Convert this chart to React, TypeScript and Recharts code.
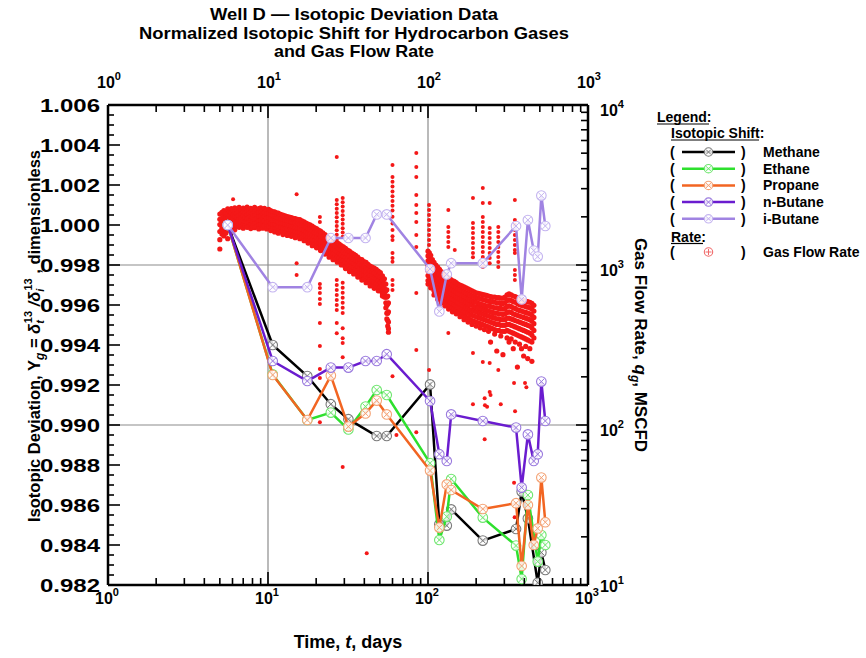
import React from "react";
import {
  ComposedChart,
  Scatter,
  XAxis,
  YAxis,
  ReferenceLine,
} from "recharts";

// sampling times (days) shared by the isotope series
const SAMPLE_DAYS = [5.6, 10.7, 17.6, 24.7, 31.8, 40.7, 47.8, 55.2, 103, 117.7, 131, 139.6, 220, 355, 385, 421, 458, 485, 511, 541];

// normalized isotopic shift, null = not sampled
const METHANE = [1.0, 0.994, 0.99245, 0.99104, 0.99029, null, 0.98945, 0.98945, 0.99203, 0.98503, 0.98497, 0.98578, 0.98422, 0.9848, 0.98667, 0.98533, null, 0.98211, 0.98363, 0.98275];
const ETHANE = [1.0, 0.99253, 0.99025, 0.99062, 0.98978, 0.99092, 0.99175, 0.9915, 0.98809, 0.98425, 0.98542, 0.9873, 0.98537, 0.98397, 0.9823, 0.9865, null, 0.98317, 0.9845, 0.984];
const PROPANE = [1.0, 0.9925, 0.99025, 0.99247, 0.98992, 0.99058, 0.99122, 0.99053, 0.98772, 0.98487, 0.98703, 0.98675, 0.9858, 0.98609, 0.98295, 0.986, 0.984, 0.98483, 0.98737, 0.98514];
const N_BUTANE = [1.0, 0.9932, 0.9922, 0.99287, 0.99287, 0.9932, 0.9932, 0.99354, 0.9912, 0.98854, 0.9882, 0.99053, 0.9902, 0.98987, 0.98687, 0.98953, 0.9882, 0.98854, 0.99217, 0.9902];
const I_BUTANE = [1.0, 0.99689, 0.99689, 0.99935, 0.99935, 0.99935, 1.00053, 1.00053, 0.9978, 0.99568, 0.99753, 0.99809, 0.99809, 0.99995, 0.99628, 1.00025, 0.99872, 0.99842, 1.00147, 0.99995];

// gas flow rate (MSCFD), rows = [t, q, q, ...]
const RATE_BAND_EARLY = [
  [5.0, 2080, 1930, 1790, 1620, 1440, 1259],
  [5.15, 2130, 1960, 1850, 1700, 1560],
  [5.3, 2190, 2020, 1880, 1760, 1650, 1520],
  [5.45, 2110, 1990, 1820, 1690, 1580],
  [5.6, 2240, 2070, 1950, 1810, 1700, 1460],
  [5.75, 2170, 2040, 1900, 1760, 1640],
  [5.9, 2250, 2110, 1980, 1850, 1730, 1600],
  [6.05, 2200, 2060, 1930, 1790, 1690],
  [6.2, 2280, 2150, 2010, 1880, 1760, 1660],
  [6.4, 2230, 2100, 1990, 1870, 1750],
  [6.6, 2290, 2170, 2040, 1930, 1820, 1720],
  [6.8, 2210, 2080, 1960, 1850, 1740],
  [7.0, 2270, 2140, 2020, 1900, 1790, 1700],
  [7.2, 2240, 2110, 1980, 1860, 1760],
  [7.4, 2300, 2160, 2050, 1940, 1820, 1720],
  [7.6, 2200, 2090, 1970, 1840, 1730],
  [7.8, 2260, 2130, 2010, 1890, 1780, 1690],
  [8.0, 2230, 2100, 1990, 1870, 1750],
  [8.25, 2290, 2150, 2030, 1920, 1810, 1710],
  [8.5, 2210, 2070, 1950, 1830, 1740],
  [8.75, 2250, 2120, 2000, 1880, 1770, 1680],
  [9.0, 2280, 2140, 2020, 1900, 1790],
  [9.25, 2220, 2090, 1970, 1860, 1750, 1700],
  [9.5, 2260, 2130, 2010, 1880, 1760],
  [9.8, 2200, 2080, 1960, 1840, 1730, 1680],
  [10.1, 2230, 2100, 1980, 1870, 1750],
  [10.4, 2190, 2060, 1940, 1820, 1710, 1640],
  [10.7, 2160, 2030, 1900, 1790, 1690],
  [11.0, 2150, 2010, 1890, 1780, 1670, 1610],
  [11.3, 2120, 1990, 1870, 1760, 1650],
  [11.6, 2110, 1970, 1850, 1740, 1640, 1580],
  [12.0, 2070, 1950, 1830, 1720, 1620],
  [12.4, 2050, 1920, 1810, 1700, 1600, 1550],
  [12.8, 2030, 1900, 1790, 1680, 1590],
  [13.2, 2010, 1890, 1770, 1670, 1570, 1530],
  [13.6, 1990, 1870, 1760, 1650, 1560],
  [14.0, 1980, 1860, 1740, 1640, 1550, 1510],
  [14.4, 1960, 1840, 1730, 1630, 1540],
  [14.8, 1950, 1830, 1710, 1610, 1520, 1480],
  [15.3, 1930, 1810, 1700, 1600, 1510],
  [15.8, 1920, 1800, 1690, 1590, 1500, 1460],
  [16.3, 1890, 1770, 1660, 1560, 1480],
  [16.8, 1860, 1750, 1640, 1540, 1460, 1420],
  [17.3, 1830, 1720, 1610, 1510, 1430],
  [17.8, 1800, 1690, 1580, 1490, 1410, 1370],
  [18.3, 1780, 1670, 1560, 1470, 1390],
  [18.9, 1750, 1640, 1530, 1440, 1360, 1320],
  [19.5, 1710, 1600, 1500, 1410, 1340],
  [20.1, 1690, 1580, 1480, 1390, 1320, 1280],
  [20.7, 1650, 1550, 1450, 1360, 1290],
  [21.3, 1630, 1520, 1420, 1340, 1270, 1230],
  [22.0, 1590, 1490, 1390, 1310, 1240],
  [22.7, 1550, 1450, 1350, 1270, 1210, 1170],
  [23.4, 1510, 1410, 1320, 1240, 1180],
  [24.1, 1480, 1380, 1290, 1210, 1150, 1120],
  [24.8, 1450, 1360, 1270, 1190, 1130],
  [25.5, 1430, 1340, 1250, 1170, 1110, 1080],
  [26.3, 1410, 1320, 1230, 1150, 1090],
  [27.1, 1380, 1290, 1200, 1130, 1070, 1040],
  [27.9, 1350, 1260, 1180, 1110, 1050],
  [28.7, 1320, 1240, 1160, 1080, 1030, 1000],
  [29.6, 1300, 1210, 1130, 1060, 1000],
  [30.5, 1270, 1180, 1110, 1040, 980, 950],
  [31.4, 1240, 1160, 1090, 1020, 960],
  [32.3, 1220, 1140, 1060, 990, 940, 910],
  [33.3, 1190, 1110, 1040, 980, 920],
  [34.3, 1170, 1090, 1020, 960, 905, 880],
  [35.3, 1150, 1070, 1000, 940, 890],
  [36.4, 1120, 1050, 980, 920, 865, 840],
  [37.5, 1090, 1020, 950, 895, 845],
  [38.6, 1080, 1000, 940, 880, 830, 805],
  [39.8, 1050, 980, 920, 860, 815],
  [41.0, 1040, 965, 900, 850, 800, 775],
  [42.2, 1010, 945, 880, 830, 785],
  [43.5, 985, 920, 860, 805, 760, 740],
  [44.8, 970, 905, 850, 795, 750],
  [46.1, 955, 890, 830, 780, 740, 715],
  [47.5, 940, 875, 815, 765, 725],
  [48.9, 915, 855, 800, 745, 705, 690],
  [50.4, 895, 835, 780, 730, 690],
  [51.9, 855, 800, 745, 695, 660, 640],
  [53.4, 820, 765, 715, 670, 630],
  [54.5, 760, 690, 630, 580, 540],
  [55.3, 700, 630, 560, 500, 460],
  [56.0, 640, 570, 500, 450, 415],
  [56.6, 580, 510, 440, 400, 380],
];

const RATE_BAND_LATE = [
  [100, 1220, 1140, 1060, 990, 920, 860, 800, 760],
  [102, 1190, 1110, 1030, 960, 900, 840, 780],
  [104, 1150, 1070, 1000, 930, 870, 810, 760, 720],
  [106.5, 1080, 1010, 940, 880, 820, 770, 720],
  [109, 1040, 970, 900, 840, 790, 740, 690, 650],
  [112, 1000, 930, 870, 810, 760, 710, 660],
  [115, 970, 900, 840, 790, 740, 690, 640, 610],
  [118, 940, 880, 820, 770, 720, 670, 630],
  [121, 910, 850, 800, 750, 700, 650, 610, 580],
  [124, 890, 830, 780, 730, 680, 640, 600],
  [127.5, 870, 810, 760, 710, 665, 625, 585, 555],
  [131, 850, 795, 745, 695, 650, 610, 570],
  [134.5, 830, 780, 730, 680, 640, 600, 560, 530],
  [138, 815, 765, 715, 670, 625, 585, 550],
  [142, 800, 750, 700, 655, 615, 575, 540, 510],
  [146, 790, 735, 690, 645, 605, 565, 530],
  [150, 775, 725, 680, 635, 595, 555, 520, 495],
  [154, 760, 710, 665, 625, 585, 545, 510],
  [158.5, 750, 700, 655, 615, 575, 535, 500, 475],
  [163, 740, 690, 645, 605, 565, 525, 490],
  [168, 730, 680, 635, 595, 555, 515, 480, 455],
  [173, 720, 670, 625, 585, 545, 505, 470],
  [178, 710, 660, 615, 575, 535, 500, 465, 440],
  [183, 700, 650, 605, 565, 525, 490, 455],
  [188.5, 690, 640, 600, 560, 520, 485, 450, 425],
  [194, 680, 635, 590, 550, 515, 480, 445],
  [200, 670, 625, 585, 545, 510, 475, 440, 415],
  [206, 665, 620, 575, 540, 505, 470, 435],
  [212, 660, 615, 570, 535, 500, 465, 430, 405],
  [218, 655, 610, 565, 530, 495, 460, 425],
  [225, 650, 605, 560, 525, 490, 455, 420, 395],
  [232, 645, 600, 555, 520, 485, 450, 415],
  [239, 640, 595, 555, 515, 480, 445, 410, 385],
  [246, 635, 590, 550, 510, 475, 440, 405, 330],
  [253, 630, 590, 545, 505, 470, 435, 400],
  [261, 630, 585, 540, 500, 465, 430, 395, 370],
  [269, 625, 580, 540, 500, 460, 425, 390, 290],
  [277, 625, 580, 535, 495, 460, 425, 390],
  [285, 620, 575, 535, 495, 455, 420, 385, 360],
  [294, 620, 575, 530, 490, 455, 420, 385, 275],
  [303, 630, 580, 535, 495, 455, 420, 385],
  [312, 650, 600, 550, 505, 465, 425, 390, 350],
  [321, 660, 605, 555, 510, 465, 425, 385, 330],
  [331, 650, 600, 550, 505, 460, 420, 380, 345],
  [341, 640, 590, 540, 495, 455, 415, 375, 300],
  [351, 635, 585, 535, 490, 450, 410, 370, 330],
  [362, 625, 575, 525, 485, 445, 405, 365, 230],
  [373, 615, 565, 520, 480, 440, 400, 360, 320],
  [384, 610, 560, 515, 475, 435, 395, 355, 300],
  [396, 600, 555, 510, 470, 430, 390, 350, 270],
  [408, 595, 550, 505, 465, 425, 385, 345, 310],
  [420, 590, 545, 500, 460, 420, 380, 340, 260],
  [433, 585, 540, 495, 455, 415, 375, 335, 300],
  [446, 575, 530, 485, 445, 405, 365, 330, 250],
  [459, 560, 515, 470, 430, 390, 350],
];

// isolated readings and vertical streaks, [t, q]
const RATE_SPIKES = [
  [6.05, 2576], [15.1, 2767], [15.1, 1026], [15.1, 866],
  [21.1, 1995], [21.1, 1857], [21.1, 761], [21.1, 718], [21.1, 668], [21.1, 613], [21.1, 570], [21.1, 434], [21.1, 312], [21.1, 224], [21.1, 197], [21.1, 104],
  [26.9, 4732], [26.9, 2547], [26.9, 2393], [26.9, 2248], [26.9, 2113], [26.9, 1985], [26.9, 1865], [26.9, 1753], [26.9, 1647], [26.9, 1548], [26.9, 1455], [26.9, 1367],
  [26.9, 806], [26.9, 750], [26.9, 698], [26.9, 649], [26.9, 604], [26.9, 562], [26.9, 523], [26.9, 434], [26.9, 375],
  [29.3, 2624], [29.3, 2467], [29.3, 2318], [29.3, 2178], [29.3, 2047], [29.3, 1924], [29.3, 1808], [29.3, 1699], [29.3, 1597], [29.3, 1500],
  [29.3, 775], [29.3, 721], [29.3, 670], [29.3, 624], [29.3, 580], [29.3, 540], [29.3, 502], [29.3, 402], [29.3, 348], [29.3, 325], [29.3, 265], [29.3, 54.6],
  [41.4, 15.8],
  [60, 4217], [60, 3548], [60, 3311], [60, 3090], [60, 2884], [60, 2692], [60, 2512], [60, 2344], [60, 2188], [60, 2000], [60, 1820], [60, 1655], [60, 1514], [60, 1433],
  [60, 1190], [60, 1107], [60, 1046], [60, 806], [60, 750], [60, 698], [60, 202], [63.5, 86.6],
  [84.5, 5012], [84.5, 4098], [84.5, 3548], [84.5, 2738], [84.5, 2371], [84.5, 2113], [84.5, 1858], [84.5, 1540], [84.5, 1296], [84.5, 668], [84.5, 294], [84.5, 90],
  [101.5, 2371], [101.5, 2207], [101.5, 2054], [101.5, 1911], [101.5, 1778], [101.5, 1655], [101.5, 1540], [101.5, 1433], [101.5, 1334], [101.5, 221],
  [134, 2207], [134, 1728], [134, 1608], [134, 1496], [134, 1392], [134, 1296], [134, 376], [147, 1241],
  [191, 2624], [191, 1830], [191, 1705], [191, 1585], [191, 1475], [191, 1372], [191, 1276], [191, 1187], [191, 1118], [191, 282], [191, 135],
  [220, 3027], [220, 2441], [220, 1995], [220, 1858], [220, 1728], [220, 1608], [220, 1496], [220, 1392], [220, 1296], [220, 1205], [220, 1121], [220, 1043], [220, 970], [220, 248],
  [226, 147], [227, 133], [226, 81.6], [234, 130],
  [243, 2441], [243, 1705], [243, 1585], [243, 1475], [243, 1372], [243, 1276], [243, 1187], [243, 1104], [243, 1027], [243, 244], [243, 161], [246, 154],
  [275, 1728], [275, 1608], [275, 1496], [275, 1392], [275, 1296], [275, 1205], [275, 1121], [275, 1043], [275, 970], [275, 221], [285, 135],
  [349, 2547], [349, 1911], [349, 1778], [349, 1655], [349, 1540], [349, 1433], [349, 1334], [349, 1241], [349, 1190], [349, 931], [349, 866], [349, 806],
  [345, 183], [350, 122], [345, 43.6], [348, 26.5], [404, 183], [412, 172],
];

const X_DECADES = [1, 10, 100, 1000];
const RATE_DECADES = [10, 100, 1000, 10000];

const FONT = "'Liberation Sans', Arial, sans-serif";

const SERIES = [
  { name: "Methane", values: METHANE, line: "#000000", mark: "#7a7a7a" },
  { name: "Ethane", values: ETHANE, line: "#2ee02e", mark: "#6ee66e" },
  { name: "Propane", values: PROPANE, line: "#f26522", mark: "#f4a274" },
  { name: "n-Butane", values: N_BUTANE, line: "#6a1ccf", mark: "#9a7ade" },
  { name: "i-Butane", values: I_BUTANE, line: "#a083e2", mark: "#c4b4f0" },
];

const logTicks = (decades: number[]) => {
  const out: number[] = [];
  decades.forEach((d, i) => {
    out.push(d);
    if (i < decades.length - 1) for (let k = 2; k <= 9; k++) out.push(d * k);
  });
  return out;
};

const isDecade = (v: number) => Math.abs(Math.log10(v) - Math.round(Math.log10(v))) < 1e-6;

const yTicks: number[] = [];
for (let i = 0; i <= 48; i++) yTicks.push(+(0.982 + i * 0.0005).toFixed(4));

const isoData = (values: (number | null)[]) =>
  SAMPLE_DAYS.map((t, i) => ({ t, y: values[i] })).filter((d) => d.y != null);

const bandData = [
  ...RATE_BAND_EARLY.flatMap(([t, ...qs]) => qs.map((q) => ({ t, q }))),
  ...RATE_BAND_LATE.flatMap(([t, ...qs]) => qs.map((q) => ({ t, q }))),
];
const spikeData = RATE_SPIKES.map(([t, q]) => ({ t, q }));

const Pow = ({ x, y, exp, anchor }: { x: number; y: number; exp: number; anchor: string }) => (
  <text x={x} y={y} textAnchor={anchor} fontFamily={FONT} fontWeight="bold" fontSize={16} fill="#000">
    10
    <tspan dy={-8} fontSize={11}>{exp}</tspan>
  </text>
);

const BottomTick = (p: any) => {
  const { x, y, payload } = p;
  const major = isDecade(payload.value);
  return (
    <g>
      <line x1={x} x2={x} y1={y} y2={y - (major ? 13 : 7)} stroke="#000" strokeWidth={1.6} />
      {major && <Pow x={x - 1} y={y + 19} exp={Math.round(Math.log10(payload.value))} anchor="middle" />}
    </g>
  );
};

const TopTick = (p: any) => {
  const { x, y, payload } = p;
  const major = isDecade(payload.value);
  return (
    <g>
      <line x1={x} x2={x} y1={y} y2={y + (major ? 13 : 7)} stroke="#000" strokeWidth={1.6} />
      {major && <Pow x={x + 1} y={y - 17} exp={Math.round(Math.log10(payload.value))} anchor="middle" />}
    </g>
  );
};

const LeftTick = (p: any) => {
  const { x, y, payload } = p;
  const v = payload.value;
  const major = Math.abs(v * 500 - Math.round(v * 500)) < 1e-6;
  return (
    <g>
      <line x1={x} x2={x + (major ? 12 : 6)} y1={y} y2={y} stroke="#000" strokeWidth={1.6} />
      {major && (
        <text x={x - 8} y={y + 6.5} textAnchor="end" fontFamily={FONT} fontWeight="bold" fontSize={18}
          textLength={60} lengthAdjust="spacingAndGlyphs" fill="#000">
          {v.toFixed(3)}
        </text>
      )}
    </g>
  );
};

const RightTick = (p: any) => {
  const { x, y, payload } = p;
  const v = payload.value;
  const major = isDecade(v);
  return (
    <g>
      <line x1={x} x2={x - (major ? 12 : 7)} y1={y} y2={y} stroke="#000" strokeWidth={1.6} />
      {major && <Pow x={x + 12} y={y + (v === 10 ? 7 : 11)} exp={Math.round(Math.log10(v))} anchor="start" />}
    </g>
  );
};

const crossMarker = (color: string, r = 4.8) => (p: any) => {
  const { cx, cy } = p;
  if (cx == null || cy == null) return <g />;
  const d = r * 0.6;
  return (
    <g>
      <circle cx={cx} cy={cy} r={r} fill="#fff" fillOpacity={0.85} stroke={color} strokeWidth={1.1} />
      <path d={`M${cx - d},${cy - d}L${cx + d},${cy + d}M${cx - d},${cy + d}L${cx + d},${cy - d}`} stroke={color} strokeWidth={1} />
    </g>
  );
};

const dot = (r: number) => (p: any) => {
  const { cx, cy } = p;
  if (cx == null || cy == null) return <g />;
  return <circle cx={cx} cy={cy} r={r} fill="#f41818" />;
};

const axisLine = { stroke: "#000", strokeWidth: 2.5 };

function Overlay() {
  const t = { fontFamily: FONT, fontWeight: "bold" as const, fill: "#000" };
  const rows = SERIES.map((s, i) => ({ ...s, y: 152 + i * 16.7 }));
  return (
    <svg width={866} height={658} style={{ position: "absolute", left: 0, top: 0, pointerEvents: "none" }}>
      <g {...t} fontSize={16.5} textAnchor="middle">
        <text x={354} y={20} textLength={288} lengthAdjust="spacingAndGlyphs">Well D — Isotopic Deviation Data</text>
        <text x={354} y={38.5} textLength={430} lengthAdjust="spacingAndGlyphs">Normalized Isotopic Shift for Hydrocarbon Gases</text>
        <text x={354} y={57} textLength={160} lengthAdjust="spacingAndGlyphs">and Gas Flow Rate</text>
      </g>
      <text {...t} fontSize={18} x={348} y={648} textAnchor="middle">
        Time, <tspan fontStyle="italic">t</tspan>, days
      </text>
      <text {...t} fontSize={16.5} transform="translate(40,336) rotate(-90)" textAnchor="middle">
        Isotopic Deviation, Y<tspan dy={4} fontSize={12} fontStyle="italic">g</tspan>
        <tspan dy={-4}> = </tspan>
        <tspan fontStyle="italic">δ</tspan>
        <tspan dy={4} fontSize={11} fontStyle="italic">t</tspan>
        <tspan dx={-3} dy={-12} fontSize={11}>13</tspan>
        <tspan dy={8} fontStyle="italic"> /δ</tspan>
        <tspan dy={4} fontSize={11} fontStyle="italic">i</tspan>
        <tspan dx={-2} dy={-12} fontSize={11}>13</tspan>
        <tspan dy={8}> , dimensionless</tspan>
      </text>
      <text {...t} fontSize={17} transform="translate(635,345) rotate(90)" textAnchor="middle">
        Gas Flow Rate, <tspan fontStyle="italic">q</tspan>
        <tspan dy={4} fontSize={12} fontStyle="italic">g</tspan>
        <tspan dy={-4}>, MSCFD</tspan>
      </text>

      <g {...t} fontSize={14}>
        <text x={657} y={122}>Legend:</text>
        <line x1={657} x2={709} y1={124} y2={124} stroke="#000" strokeWidth={1.2} />
        <text x={671} y={138}>Isotopic Shift:</text>
        <line x1={671} x2={759} y1={140} y2={140} stroke="#000" strokeWidth={1.2} />
        {rows.map((r) => (
          <g key={r.name}>
            <text x={670} y={r.y + 5}>(</text>
            <line x1={682} x2={735} y1={r.y} y2={r.y} stroke={r.line} strokeWidth={2.5} />
            {crossMarker(r.mark, 4.2)({ cx: 708.5, cy: r.y })}
            <text x={741} y={r.y + 5}>)</text>
            <text x={763} y={r.y + 5}>{r.name}</text>
          </g>
        ))}
        <text x={671} y={241.5}>Rate:</text>
        <line x1={671} x2={703} y1={243.5} y2={243.5} stroke="#000" strokeWidth={1.2} />
        <text x={670} y={257}>(</text>
        <circle cx={708.5} cy={252} r={4.2} fill="#fff" stroke="#f06a6a" strokeWidth={1.1} />
        <path d="M705.5,252H711.5M708.5,249V255" stroke="#f06a6a" strokeWidth={1} />
        <text x={741} y={257}>)</text>
        <text x={763} y={257}>Gas Flow Rate</text>
      </g>
    </svg>
  );
}

export default function App() {
  return (
    <div style={{ position: "absolute", left: 0, top: 0, width: 866, height: 658, background: "#fff" }}>
      <ComposedChart width={866} height={658} margin={{ top: 65, right: 218, bottom: 33, left: 48 }}>
        <XAxis xAxisId="b" dataKey="t" type="number" scale="log" domain={[1, 1000]} allowDataOverflow
          ticks={logTicks(X_DECADES)} interval={0} orientation="bottom" height={40}
          tickSize={0} tickMargin={0} tickLine={false} axisLine={axisLine} tick={BottomTick} />
        <XAxis xAxisId="t" dataKey="t" type="number" scale="log" domain={[1, 1000]} allowDataOverflow
          ticks={logTicks(X_DECADES)} interval={0} orientation="top" height={40}
          tickSize={0} tickMargin={0} tickLine={false} axisLine={axisLine} tick={TopTick} />
        <YAxis yAxisId="l" dataKey="y" type="number" domain={[0.982, 1.006]} allowDataOverflow
          ticks={yTicks} interval={0} orientation="left" width={60}
          tickSize={0} tickMargin={0} tickLine={false} axisLine={axisLine} tick={LeftTick} />
        <YAxis yAxisId="r" dataKey="q" type="number" scale="log" domain={[10, 10000]} allowDataOverflow
          ticks={logTicks(RATE_DECADES)} interval={0} orientation="right" width={60}
          tickSize={0} tickMargin={0} tickLine={false} axisLine={axisLine} tick={RightTick} />

        <ReferenceLine xAxisId="b" yAxisId="l" x={10} stroke="#8c8c8c" strokeWidth={1.2} />
        <ReferenceLine xAxisId="b" yAxisId="l" x={100} stroke="#8c8c8c" strokeWidth={1.2} />
        <ReferenceLine xAxisId="b" yAxisId="r" y={100} stroke="#8c8c8c" strokeWidth={1.2} />
        <ReferenceLine xAxisId="b" yAxisId="r" y={1000} stroke="#8c8c8c" strokeWidth={1.2} />

        <Scatter name="Gas Flow Rate" xAxisId="b" yAxisId="r" data={bandData} dataKey="q"
          shape={dot(2.6)} isAnimationActive={false} />
        <Scatter name="Gas Flow Rate (spikes)" xAxisId="b" yAxisId="r" data={spikeData} dataKey="q"
          shape={dot(2)} isAnimationActive={false} />
        {SERIES.map((s) => (
          <Scatter key={s.name} name={s.name} xAxisId="b" yAxisId="l" data={isoData(s.values)} dataKey="y"
            line={{ stroke: s.line, strokeWidth: 2.5 }} shape={crossMarker(s.mark)} isAnimationActive={false} />
        ))}
      </ComposedChart>
      <Overlay />
    </div>
  );
}
